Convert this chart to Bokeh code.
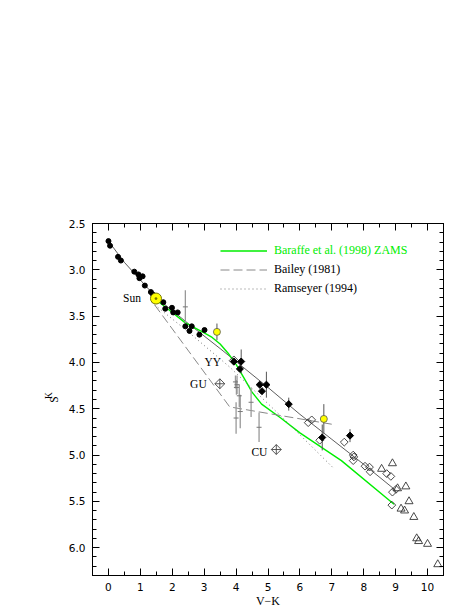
import numpy as np
from bokeh.plotting import figure
from bokeh.models import (Range1d, LinearAxis, FixedTicker, PrintfTickFormatter,
                          CustomJSTickFormatter, Label, Legend, LegendItem)
from bokeh.embed import file_html
from bokeh.resources import INLINE

# ---------------- data ----------------
# small black dots (nearby stars)
dots_x = [0.00, 0.05, 0.30, 0.39, 0.81, 0.94, 0.97, 1.07, 1.14, 1.33, 1.40,
          1.72, 1.78, 1.99, 2.03, 2.17, 2.41, 2.54, 2.61, 2.85, 3.01]
dots_y = [2.69, 2.74, 2.86, 2.90, 3.02, 3.05, 3.09, 3.07, 3.17, 3.24, 3.27,
          3.35, 3.42, 3.41, 3.46, 3.46, 3.61, 3.66, 3.61, 3.70, 3.65]

# Sun
sun_x = [1.49]
sun_y = [3.31]

# yellow points with error bars
yel_x = [3.40, 6.75]
yel_y = [3.67, 4.61]
yel_e = [0.09, 0.16]

# filled black diamonds with error bars
fd_x = [3.93, 4.16, 4.12, 4.74, 4.95, 4.81, 5.65, 6.70, 7.57]
fd_y = [3.99, 3.99, 4.07, 4.24, 4.24, 4.31, 4.45, 4.81, 4.79]
fd_e = [0.00, 0.13, 0.00, 0.00, 0.14, 0.00, 0.07, 0.14, 0.07]

# open diamonds
od_x = [6.26, 6.37, 6.62, 7.39, 7.67, 7.69, 7.67, 8.04, 8.18, 8.20, 8.72,
        8.85, 8.90, 9.01, 8.88]
od_y = [4.65, 4.62, 4.84, 4.86, 5.00, 5.02, 5.06, 5.12, 5.13, 5.18, 5.20,
        5.23, 5.40, 5.37, 5.54]

# open triangles
tr_x = [8.56, 8.90, 9.06, 9.32, 9.42, 9.17, 9.28, 9.57, 9.66, 9.72, 10.00, 10.32]
tr_y = [5.15, 5.09, 5.36, 5.34, 5.50, 5.58, 5.60, 5.67, 5.90, 5.93, 5.96, 6.18]

# grey crosses with error bars
gc_x = [2.41, 3.98, 4.01, 4.03, 4.00, 4.10, 4.13, 4.47, 4.72]
gc_y = [3.40, 4.21, 4.27, 4.24, 4.60, 4.36, 4.53, 4.43, 4.70]
gc_e = [0.18, 0.07, 0.08, 0.10, 0.17, 0.12, 0.18, 0.16, 0.16]

# named binaries
yy_x, yy_y = [3.93], [3.98]
gucu_x = [3.49, 5.26]
gucu_y = [4.23, 4.94]

# curves
fit_x = [0.0, 0.5, 1.0, 1.5, 2.5, 3.5, 4.0, 5.0, 6.0, 7.0, 8.0, 9.0]
fit_y = [2.69, 2.92, 3.11, 3.30, 3.58, 3.85, 3.99, 4.27, 4.56, 4.83, 5.10, 5.38]

baraffe_x = [1.52, 2.0, 2.4, 3.0, 3.25, 3.5, 3.75, 4.0, 4.25, 4.5, 4.8, 5.4,
             6.0, 7.3, 8.95]
baraffe_y = [3.33, 3.46, 3.57, 3.68, 3.73, 3.80, 3.90, 4.02, 4.17, 4.32, 4.45,
             4.60, 4.76, 5.06, 5.53]

bailey_x = [1.45, 3.8, 7.05]
bailey_y = [3.38, 4.48, 4.67]

ramseyer_x = [1.35, 2.5, 3.8, 5.5, 7.05]
ramseyer_y = [3.35, 3.67, 4.05, 4.61, 5.14]

# tick values
x_ticks = list(range(0, 11))
y_ticks = [2.5, 3.0, 3.5, 4.0, 4.5, 5.0, 5.5, 6.0]

# annotations
ann_text = ["Sun", "YY", "GU", "CU"]
ann_x = [1.02, 3.53, 3.08, 4.73]
ann_y = [3.30, 3.99, 4.23, 4.97]
ann_align = ["right", "right", "right", "center"]

legend_labels = ["Baraffe et al. (1998) ZAMS", "Bailey (1981)", "Ramseyer (1994)"]

GREEN = "#00ee00"
SERIF = "Liberation Serif"
SANS = "DejaVu Sans"

W, H = 467, 612

# ---------------- figure ----------------
p = figure(width=W, height=H, output_backend="svg", toolbar_location=None,
           x_range=Range1d(-0.5, 10.5), y_range=Range1d(6.3, 2.5),
           min_border_left=92, min_border_right=24, min_border_top=223,
           min_border_bottom=37)
p.grid.grid_line_color = None
p.outline_line_color = "black"
p.outline_line_width = 1
p.background_fill_color = "white"
p.border_fill_color = "white"

x_minor = [v + 0.5 for v in range(-1, 11)]
y_minor = [round(2.5 + 0.1 * i, 2) for i in range(0, 39)]


def style_axis(ax, ticks, minor, fmt):
    ax.ticker = FixedTicker(ticks=ticks, minor_ticks=minor)
    ax.major_tick_in = 7
    ax.major_tick_out = 0
    ax.minor_tick_in = 4
    ax.minor_tick_out = 0
    ax.axis_line_color = "black"
    ax.major_tick_line_color = "black"
    ax.minor_tick_line_color = "black"
    if fmt is None:
        ax.formatter = CustomJSTickFormatter(code="return ''")
        ax.major_label_text_font_size = "0px"
        ax.major_label_standoff = 0
    else:
        ax.formatter = fmt
        ax.major_label_text_font = SANS
        ax.major_label_text_font_size = "10.5px"
        ax.major_label_text_color = "black"
        ax.major_label_standoff = 7


xa = p.below[0]
ya = p.left[0]
style_axis(xa, x_ticks, x_minor, PrintfTickFormatter(format="%d"))
style_axis(ya, y_ticks, y_minor, PrintfTickFormatter(format="%.1f"))
top = LinearAxis()
right = LinearAxis()
style_axis(top, x_ticks, x_minor, None)
style_axis(right, y_ticks, y_minor, None)
p.add_layout(top, "above")
p.add_layout(right, "right")

xa.axis_label = "V−K"
xa.axis_label_text_font = SERIF
xa.axis_label_text_font_size = "12px"
xa.axis_label_text_font_style = "normal"
xa.axis_label_text_color = "black"
xa.axis_label_standoff = 0

ya.axis_label = "S"
ya.axis_label_text_font = SERIF
ya.axis_label_text_font_size = "11.5px"
ya.axis_label_text_font_style = "normal"
ya.axis_label_text_color = "black"
ya.axis_label_standoff = 6

# curves
r_fit = p.line(fit_x, fit_y, line_color="#333333", line_width=0.8)
r_bar = p.line(baraffe_x, baraffe_y, line_color=GREEN, line_width=1.4)
r_bai = p.line(bailey_x, bailey_y, line_color="#888888", line_width=1,
               line_dash="9 4")
r_ram = p.line(ramseyer_x, ramseyer_y, line_color="#777777", line_width=1,
               line_dash="1 3")

# error bars
gx, gy, ge = np.array(gc_x), np.array(gc_y), np.array(gc_e)
p.segment(x0=gx, y0=gy - ge, x1=gx, y1=gy + ge, line_color="#999999", line_width=1.3)
p.scatter(gc_x, gc_y, marker="dash", size=5, line_color="#777777", line_width=1)

fx, fy, fe = np.array(fd_x), np.array(fd_y), np.array(fd_e)
p.segment(x0=fx, y0=fy - fe, x1=fx, y1=fy + fe, line_color="#555555", line_width=1)
yx, yy, ye = np.array(yel_x), np.array(yel_y), np.array(yel_e)
p.segment(x0=yx, y0=yy - ye, x1=yx, y1=yy + ye, line_color="#555555", line_width=1)

# markers
p.scatter(dots_x, dots_y, marker="circle", size=5, fill_color="black",
          line_color="black")
p.scatter(od_x, od_y, marker="square", angle=np.pi / 4, size=5.5,
          fill_color="white", fill_alpha=0, line_color="#333333", line_width=0.9)
p.scatter(tr_x, tr_y, marker="triangle", size=8, fill_alpha=0,
          line_color="#333333", line_width=0.9)
p.scatter(yy_x, yy_y, marker="square", angle=np.pi / 4, size=6.5,
          fill_alpha=0, line_color="#333333", line_width=0.9)
p.scatter(fd_x, fd_y, marker="square", angle=np.pi / 4, size=5,
          fill_color="black", line_color="black")
p.scatter(gucu_x, gucu_y, marker="square_x", angle=np.pi / 4, size=7,
          fill_alpha=0, line_color="#444444", line_width=0.9)
p.scatter(yel_x, yel_y, marker="circle", size=7, fill_color="#ffff00",
          line_color="#555555", line_width=0.8)
p.scatter(sun_x, sun_y, marker="circle_dot", size=11, fill_color="#ffff00",
          line_color="#777700", line_width=1)

# annotations
for t, ax_, ay_, al in zip(ann_text, ann_x, ann_y, ann_align):
    p.add_layout(Label(x=ax_, y=ay_, text=t, text_align=al, text_baseline="middle",
                       text_font=SERIF, text_font_size="11.5px", text_color="black"))

# legend
leg1 = Legend(items=[LegendItem(label=legend_labels[0], renderers=[r_bar])],
              location=(128, 315))
leg2 = Legend(items=[LegendItem(label=legend_labels[1], renderers=[r_bai]),
                     LegendItem(label=legend_labels[2], renderers=[r_ram])],
              location=(128, 277))
for lg, col in ((leg1, GREEN), (leg2, "black")):
    lg.padding = 0
    lg.margin = 0
    lg.spacing = 0
    lg.glyph_width = 47
    lg.glyph_height = 19
    lg.label_height = 19
    lg.label_standoff = 7
    lg.border_line_color = None
    lg.background_fill_alpha = 0
    lg.label_text_font = SERIF
    lg.label_text_font_size = "12px"
    lg.label_text_color = col
    p.add_layout(lg)

# subscript K of the y-axis title, placed in the left side panel
p.add_layout(Label(x=14, y=180, x_units="screen", y_units="screen", text="K",
                   angle=np.pi / 2, text_align="center", text_baseline="middle",
                   text_font=SERIF, text_font_size="9.5px", text_color="black"), "left")

open("out.html", "w").write(file_html(p, INLINE))
